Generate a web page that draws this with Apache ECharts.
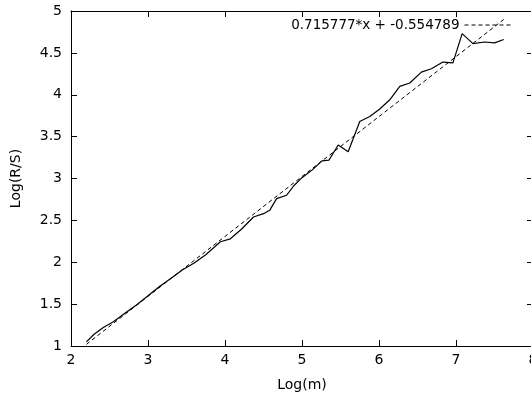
<!DOCTYPE html>
<html>
<head>
<meta charset="utf-8">
<script src="https://cdn.jsdelivr.net/npm/echarts@6/dist/echarts.min.js"></script>
<style>
html,body{margin:0;padding:0;background:#fff;}
#chart{width:531px;height:400px;}
</style>
</head>
<body>
<div id="chart"></div>
<script>
// Data
const logM = [2.20, 2.30, 2.42, 2.55, 2.70, 2.85, 3.00, 3.15, 3.30, 3.45, 3.60, 3.75, 3.94, 4.07, 4.22, 4.37, 4.50, 4.58, 4.67, 4.80, 4.90, 5.00, 5.13, 5.26, 5.35, 5.47, 5.60, 5.75, 5.88, 6.01, 6.14, 6.27, 6.40, 6.55, 6.68, 6.83, 6.96, 7.08, 7.22, 7.37, 7.50, 7.62];
const logRS = [1.05, 1.14, 1.22, 1.29, 1.39, 1.49, 1.60, 1.71, 1.81, 1.91, 1.99, 2.09, 2.245, 2.28, 2.40, 2.54, 2.58, 2.62, 2.76, 2.80, 2.92, 3.01, 3.10, 3.21, 3.22, 3.40, 3.32, 3.68, 3.74, 3.83, 3.94, 4.10, 4.14, 4.27, 4.31, 4.39, 4.38, 4.73, 4.61, 4.63, 4.62, 4.66];
const fitX = [2.2, 7.62];
const fitY = [1.020, 4.899];
const fitName = '0.715777*x + -0.554789';
const xTicks = ['2', '3', '4', '5', '6', '7', '8'];
const yTicks = ['1', '1.5', '2', '2.5', '3', '3.5', '4', '4.5', '5'];

const FONT = 'DejaVu Sans';
const chart = echarts.init(document.getElementById('chart'), null, {renderer: 'canvas'});
const lineClr = '#000';

function axisBase(extra) {
  return Object.assign({
    type: 'value',
    axisLine: {show: true, onZero: false, lineStyle: {color: lineClr, width: 1}},
    axisTick: {show: true, inside: true, length: 6, lineStyle: {color: lineClr, width: 1}},
    splitLine: {show: false},
    minorTick: {show: false}
  }, extra);
}

chart.setOption({
  animation: false,
  backgroundColor: '#fff',
  textStyle: {fontFamily: FONT},
  grid: {left: 71, top: 11, width: 462, height: 335, containLabel: false, outerBoundsMode: 'none'},
  legend: {
    data: [fitName],
    right: 18,
    top: 18,
    padding: 0,
    align: 'right',
    itemWidth: 48,
    itemHeight: 14,
    textStyle: {fontFamily: FONT, fontSize: 13.5, color: '#000'},
    itemStyle: {opacity: 0},
    lineStyle: {type: [4, 3], width: 1, color: '#000'}
  },
  xAxis: [
    axisBase({
      position: 'bottom', min: 2, max: 8, interval: 1,
      name: 'Log(m)', nameLocation: 'middle', nameGap: 32,
      nameTextStyle: {fontFamily: FONT, fontSize: 14, color: '#000'},
      axisLabel: {margin: 7, fontFamily: FONT, fontSize: 14, color: '#000',
        formatter: v => xTicks[Math.round(v - 2)]}
    }),
    axisBase({
      position: 'top', min: 2, max: 8, interval: 1,
      axisLabel: {show: false}
    })
  ],
  yAxis: [
    axisBase({
      position: 'left', min: 1, max: 5, interval: 0.5,
      name: 'Log(R/S)', nameLocation: 'middle', nameGap: 48,
      nameTextStyle: {fontFamily: FONT, fontSize: 14, color: '#000'},
      axisLabel: {margin: 9, fontFamily: FONT, fontSize: 14, color: '#000',
        formatter: v => yTicks[Math.round((v - 1) * 2)]}
    }),
    axisBase({
      position: 'right', min: 1, max: 5, interval: 0.5,
      axisLabel: {show: false}
    })
  ],
  series: [
    {
      name: 'data',
      type: 'line',
      data: logM.map((x, i) => [x, logRS[i]]),
      showSymbol: false,
      symbol: 'none',
      lineStyle: {color: '#000', width: 1.2},
      itemStyle: {color: '#000'},
      z: 3
    },
    {
      name: fitName,
      type: 'line',
      data: fitX.map((x, i) => [x, fitY[i]]),
      showSymbol: false,
      symbol: 'none',
      lineStyle: {color: '#000', width: 1, type: [4, 3]},
      itemStyle: {color: '#000'},
      z: 2
    }
  ]
});
</script>
</body>
</html>
